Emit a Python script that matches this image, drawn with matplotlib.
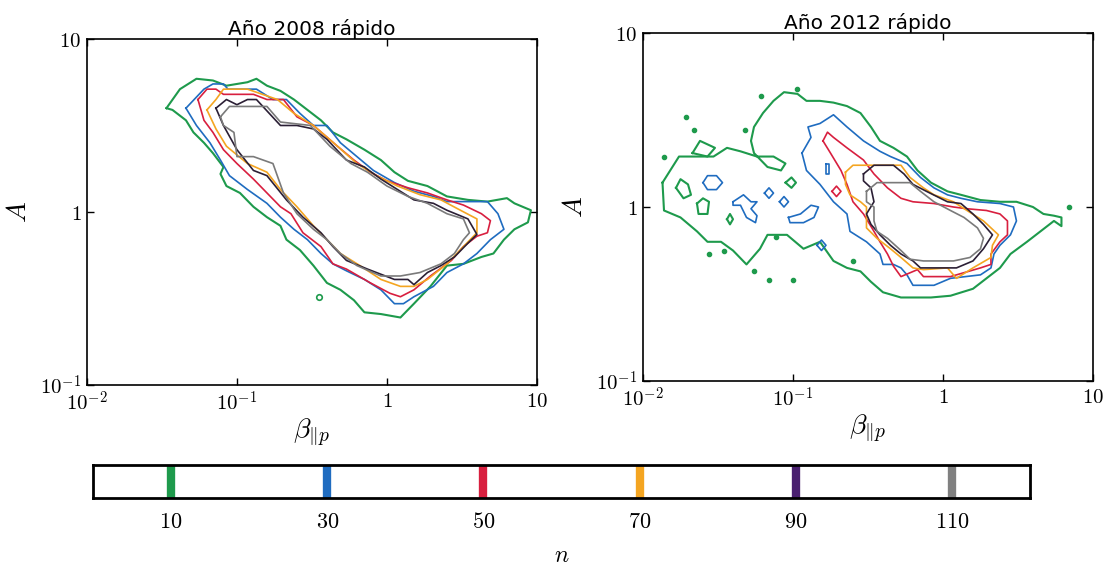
import matplotlib
matplotlib.use("Agg")
import matplotlib.pyplot as plt
import numpy as np

plt.rcParams['mathtext.fontset'] = 'cm'

# Contour levels (n) and their colours
levels = [10, 30, 50, 70, 90, 110]
level_colors = ['#1e9a4c', '#1f6cc0', '#d81f3f', '#f4a521', '#2b1f35', '#7a7a7a']
bar_colors = ['#1e9a4c', '#1f6cc0', '#d81f3f', '#f4a521', '#4a2070', '#808080']
tick_labels = ['$10^{-2}$', '$10^{-1}$', '$1$', '$10$']

# ---- 2008 contours, (log10 beta, log10 A) ----
y08_n10 = [(-1.47,0.60),(-1.38,0.71),(-1.27,0.77),(-1.16,0.76),(-1.07,0.73),(-0.93,0.75),(-0.87,0.77),
           (-0.80,0.73),(-0.71,0.70),(-0.62,0.65),(-0.53,0.59),(-0.44,0.53),(-0.36,0.46),(-0.27,0.42),
           (-0.15,0.36),(-0.04,0.30),(0.05,0.23),(0.14,0.18),(0.27,0.15),(0.40,0.09),(0.54,0.07),
           (0.67,0.06),(0.80,0.08),(0.85,0.05),(0.96,0.01),(0.94,-0.06),(0.85,-0.10),(0.78,-0.16),
           (0.71,-0.24),(0.63,-0.26),(0.51,-0.30),(0.40,-0.31),(0.29,-0.43),(0.18,-0.53),(0.09,-0.61),
           (-0.04,-0.59),(-0.15,-0.58),(-0.22,-0.51),(-0.31,-0.45),(-0.40,-0.41),(-0.49,-0.31),
           (-0.58,-0.22),(-0.67,-0.16),(-0.71,-0.08),(-0.80,-0.03),(-0.89,0.03),(-0.98,0.11),
           (-1.07,0.15),(-1.11,0.22),(-1.09,0.26),(-1.16,0.34),(-1.22,0.40),(-1.29,0.46),
           (-1.34,0.53),(-1.43,0.59)]
y08_n30 = [(-1.34,0.60),(-1.22,0.71),(-1.16,0.74),(-1.09,0.74),(-1.06,0.71),(-0.87,0.71),(-0.76,0.65),
           (-0.67,0.65),(-0.58,0.57),(-0.49,0.50),(-0.40,0.50),(-0.31,0.40),(-0.20,0.32),(-0.09,0.24),
           (0.05,0.17),(0.18,0.12),(0.31,0.09),(0.40,0.06),(0.54,0.06),(0.67,0.06),(0.74,-0.01),
           (0.78,-0.10),(0.69,-0.16),(0.60,-0.24),(0.51,-0.30),(0.40,-0.35),(0.31,-0.43),(0.18,-0.49),
           (0.11,-0.53),(0.05,-0.53),(-0.04,-0.45),(-0.15,-0.39),(-0.27,-0.34),(-0.36,-0.30),
           (-0.44,-0.24),(-0.53,-0.16),(-0.62,-0.10),(-0.71,-0.03),(-0.80,0.05),(-0.93,0.13),
           (-1.05,0.21),(-1.11,0.30),(-1.18,0.40),(-1.27,0.50)]
y08_n50 = [(-1.26,0.65),(-1.20,0.71),(-1.14,0.71),(-1.09,0.68),(-0.89,0.68),(-0.80,0.65),(-0.69,0.65),
           (-0.60,0.55),(-0.49,0.50),(-0.33,0.38),(-0.22,0.30),(-0.11,0.23),(0.00,0.18),(0.14,0.14),
           (0.27,0.11),(0.40,0.07),(0.51,0.04),(0.63,-0.01),(0.69,-0.05),(0.67,-0.12),(0.60,-0.14),
           (0.51,-0.20),(0.43,-0.28),(0.29,-0.37),(0.18,-0.45),(0.09,-0.49),(0.02,-0.47),(-0.11,-0.41),
           (-0.27,-0.33),(-0.36,-0.30),(-0.44,-0.20),(-0.56,-0.12),(-0.64,-0.01),(-0.71,0.03),
           (-0.80,0.11),(-0.89,0.19),(-1.00,0.28),(-1.09,0.36),(-1.16,0.46),(-1.22,0.53)]
y08_n70 = [(-1.20,0.59),(-1.14,0.65),(-1.09,0.71),(-0.93,0.71),(-0.73,0.65),(-0.62,0.57),(-0.49,0.50),
           (-0.33,0.38),(-0.20,0.28),(-0.07,0.21),(0.07,0.15),(0.22,0.10),(0.36,0.07),(0.49,0.01),
           (0.60,-0.04),(0.60,-0.12),(0.51,-0.20),(0.40,-0.30),(0.27,-0.39),(0.18,-0.43),(0.09,-0.43),
           (-0.04,-0.39),(-0.18,-0.31),(-0.31,-0.24),(-0.40,-0.16),(-0.49,-0.08),(-0.60,0.03),
           (-0.71,0.13),(-0.80,0.23),(-0.93,0.28),(-1.07,0.38),(-1.14,0.48)]
y08_n90 = [(-1.14,0.60),(-1.07,0.65),(-1.00,0.62),(-0.93,0.65),(-0.87,0.65),(-0.71,0.50),(-0.60,0.50),
           (-0.49,0.48),(-0.40,0.42),(-0.27,0.30),(-0.15,0.26),(-0.04,0.19),(0.07,0.13),(0.18,0.07),
           (0.31,0.05),(0.40,0.01),(0.54,-0.04),(0.60,-0.13),(0.54,-0.18),(0.45,-0.26),(0.36,-0.31),
           (0.27,-0.35),(0.18,-0.42),(0.14,-0.39),(0.05,-0.39),(-0.07,-0.35),(-0.13,-0.33),
           (-0.27,-0.28),(-0.36,-0.20),(-0.44,-0.12),(-0.56,-0.03),(-0.67,0.07),(-0.80,0.21),
           (-0.89,0.24),(-1.00,0.36),(-1.09,0.50)]
y08_n110 = [(-1.11,0.55),(-1.05,0.61),(-0.80,0.61),(-0.71,0.52),(-0.51,0.50),(-0.38,0.38),(-0.24,0.28),
            (-0.13,0.23),(0.00,0.15),(0.14,0.09),(0.27,0.05),(0.40,-0.01),(0.51,-0.04),(0.55,-0.12),
            (0.51,-0.16),(0.45,-0.24),(0.36,-0.30),(0.22,-0.35),(0.09,-0.37),(-0.04,-0.37),
            (-0.20,-0.31),(-0.31,-0.24),(-0.40,-0.16),(-0.49,-0.10),(-0.60,-0.01),(-0.69,0.11),
            (-0.76,0.28),(-0.89,0.32),(-1.00,0.32),(-1.02,0.46),(-1.09,0.50)]
y08_dots = [(-0.45,-0.49)]

# ---- 2012 contours, (log10 beta, log10 A) ----
y12_n10 = [(-1.87,0.14),(-1.76,0.29),(-1.66,0.29),(-1.53,0.29),(-1.44,0.34),(-1.35,0.32),(-1.24,0.29),
           (-1.13,0.29),(-1.05,0.25),(-1.08,0.21),(-1.17,0.23),(-1.26,0.31),(-1.28,0.38),(-1.26,0.46),
           (-1.20,0.54),(-1.13,0.61),(-1.06,0.66),(-0.97,0.65),(-0.91,0.61),(-0.82,0.61),(-0.73,0.60),
           (-0.64,0.58),(-0.55,0.54),(-0.48,0.46),(-0.42,0.38),(-0.33,0.34),(-0.24,0.29),(-0.17,0.21),
           (-0.08,0.14),(0.03,0.09),(0.12,0.07),(0.25,0.04),(0.38,0.03),(0.49,0.03),(0.60,0.00),
           (0.67,-0.04),(0.74,-0.05),(0.79,-0.06),(0.79,-0.11),(0.74,-0.08),(0.65,-0.14),(0.56,-0.20),
           (0.45,-0.27),(0.38,-0.35),(0.29,-0.41),(0.20,-0.47),(0.05,-0.51),(-0.08,-0.52),
           (-0.28,-0.52),(-0.40,-0.49),(-0.48,-0.43),(-0.55,-0.37),(-0.64,-0.35),(-0.73,-0.31),
           (-0.82,-0.20),(-0.93,-0.24),(-1.04,-0.16),(-1.17,-0.16),(-1.22,-0.24),(-1.31,-0.33),
           (-1.40,-0.25),(-1.48,-0.20),(-1.57,-0.20),(-1.64,-0.14),(-1.75,-0.06),(-1.86,-0.02)]
y12_n10_islands = [
    [(-1.78,0.11),(-1.75,0.16),(-1.70,0.13),(-1.68,0.07),(-1.73,0.05)],
    [(-1.64,0.02),(-1.60,0.05),(-1.56,0.03),(-1.57,-0.04),(-1.63,-0.04)],
    [(-1.67,0.31),(-1.62,0.38),(-1.52,0.34),(-1.57,0.29)],
    [(-1.44,-0.07),(-1.42,-0.04),(-1.40,-0.07),(-1.42,-0.10)],
    [(-1.05,0.14),(-1.01,0.17),(-0.98,0.14),(-1.01,0.11)],
]
y12_dots = [(-1.21,0.64),(-1.86,0.29),(-1.66,0.44),(-1.32,0.44),(-1.56,-0.27),(-1.26,-0.37),
            (-1.16,-0.42),(-1.00,-0.42),(-1.11,-0.17),(-0.60,-0.31),(0.84,0.00),(-1.71,0.52),
            (-0.97,0.68),(-1.46,-0.25)]
y12_n30 = [(-0.94,0.31),(-0.88,0.40),(-0.90,0.46),(-0.82,0.48),(-0.73,0.53),(-0.64,0.46),(-0.53,0.38),
           (-0.42,0.32),(-0.35,0.29),(-0.24,0.25),(-0.15,0.17),(-0.06,0.11),(0.03,0.07),(0.12,0.05),
           (0.23,0.03),(0.38,0.02),(0.47,0.00),(0.49,-0.08),(0.45,-0.16),(0.38,-0.22),(0.34,-0.27),
           (0.32,-0.35),(0.25,-0.39),(0.05,-0.41),(-0.06,-0.45),(-0.20,-0.45),(-0.24,-0.39),
           (-0.28,-0.35),(-0.33,-0.33),(-0.40,-0.33),(-0.42,-0.27),(-0.51,-0.20),(-0.62,-0.14),
           (-0.64,-0.04),(-0.73,0.03),(-0.82,0.13),(-0.91,0.21)]
y12_n30_islands = [
    [(-1.60,0.14),(-1.57,0.18),(-1.51,0.18),(-1.47,0.14),(-1.51,0.10),(-1.57,0.10)],
    [(-1.40,0.03),(-1.33,0.07),(-1.28,0.03),(-1.24,0.03),(-1.28,-0.01),(-1.24,-0.05),
     (-1.25,-0.09),(-1.31,-0.06),(-1.35,0.01),(-1.40,0.01)],
    [(-1.19,0.08),(-1.16,0.11),(-1.13,0.08),(-1.16,0.05)],
    [(-1.09,0.03),(-1.06,0.06),(-1.03,0.03),(-1.06,0.00)],
    [(-0.84,-0.22),(-0.81,-0.19),(-0.78,-0.22),(-0.81,-0.25)],
    [(-1.03,-0.06),(-0.95,-0.04),(-0.88,0.01),(-0.83,0.00),(-0.86,-0.06),(-0.93,-0.09),(-1.02,-0.09)],
    [(-0.78,0.25),(-0.76,0.25),(-0.76,0.19),(-0.78,0.19)],
]
y12_n50 = [(-0.80,0.38),(-0.77,0.43),(-0.73,0.40),(-0.64,0.34),(-0.53,0.27),(-0.46,0.19),(-0.37,0.11),
           (-0.28,0.05),(-0.20,0.03),(-0.06,0.02),(0.07,0.00),(0.16,-0.01),(0.29,-0.02),(0.38,-0.04),
           (0.43,-0.08),(0.43,-0.16),(0.38,-0.20),(0.32,-0.27),(0.32,-0.33),(0.25,-0.35),(0.05,-0.40),
           (-0.13,-0.40),(-0.17,-0.36),(-0.28,-0.40),(-0.33,-0.34),(-0.37,-0.27),(-0.42,-0.20),
           (-0.46,-0.14),(-0.53,-0.04),(-0.60,0.03),(-0.64,0.13),(-0.68,0.21),(-0.75,0.31)]
y12_n50_islands = [[(-0.74,0.09),(-0.71,0.12),(-0.68,0.09),(-0.71,0.06)]]
y12_n70 = [(-0.65,0.20),(-0.60,0.24),(-0.28,0.24),(-0.22,0.17),(-0.13,0.11),(-0.06,0.07),(0.07,0.03),
           (0.16,-0.02),(0.27,-0.08),(0.37,-0.16),(0.33,-0.22),(0.32,-0.29),(0.20,-0.35),(0.09,-0.41),
           (0.03,-0.35),(-0.13,-0.36),(-0.20,-0.35),(-0.28,-0.29),(-0.35,-0.24),(-0.44,-0.18),
           (-0.51,-0.12),(-0.51,0.00),(-0.55,0.03),(-0.62,0.07),(-0.65,0.13)]
y12_n90 = [(-0.53,0.19),(-0.46,0.24),(-0.33,0.24),(-0.26,0.19),(-0.20,0.13),(-0.11,0.09),(0.03,0.03),
           (0.12,0.02),(0.20,-0.04),(0.27,-0.10),(0.33,-0.16),(0.27,-0.24),(0.20,-0.31),(0.09,-0.35),
           (-0.15,-0.35),(-0.20,-0.31),(-0.28,-0.27),(-0.35,-0.22),(-0.42,-0.16),(-0.48,-0.10),
           (-0.51,-0.04),(-0.46,0.03),(-0.48,0.11),(-0.53,0.15)]
y12_n110 = [(-0.51,0.09),(-0.44,0.14),(-0.22,0.14),(-0.15,0.09),(-0.06,0.03),(0.05,-0.02),(0.14,-0.06),
            (0.23,-0.12),(0.27,-0.18),(0.25,-0.24),(0.18,-0.29),(0.07,-0.31),(-0.13,-0.31),
            (-0.22,-0.30),(-0.28,-0.25),(-0.37,-0.18),(-0.44,-0.14),(-0.46,-0.08),(-0.46,0.00),
            (-0.51,0.03)]


def draw_loop(ax, pts, color, lw=1.2):
    p = np.array(pts + [pts[0]])
    ax.plot(10 ** p[:, 0], 10 ** p[:, 1], color=color, lw=lw)


def setup(ax, title):
    ax.set_xscale('log')
    ax.set_yscale('log')
    ax.set_xlim(0.01, 10)
    ax.set_ylim(0.1, 10)
    ax.set_xticks([0.01, 0.1, 1, 10])
    ax.set_xticklabels(tick_labels, fontsize=15)
    ax.set_yticks([0.1, 1, 10])
    ax.set_yticklabels(['$10^{-1}$', '$1$', '$10$'], fontsize=15)
    ax.minorticks_off()
    ax.tick_params(direction='in', length=5, width=1, top=True, right=True, pad=4)
    for s in ax.spines.values():
        s.set_linewidth(1.2)
    ax.set_title(title, fontsize=14.5, pad=3)
    ax.set_xlabel(r'$\beta_{\|p}$', fontsize=20, labelpad=1)
    ax.set_ylabel('$A$', fontsize=20, labelpad=6)


fig = plt.figure(figsize=(11.05, 5.69), dpi=100)
ax1 = fig.add_axes([0.0787, 0.3234, 0.4072, 0.6081])
ax2 = fig.add_axes([0.5819, 0.3304, 0.4072, 0.6116])

# 2008
for pts, c in zip([y08_n10, y08_n30, y08_n50, y08_n70, y08_n90, y08_n110], level_colors):
    draw_loop(ax1, pts, c, lw=1.5 if c == level_colors[0] else 1.2)
d = np.array(y08_dots)
ax1.plot(10 ** d[:, 0], 10 ** d[:, 1], 'o', ms=4, mfc='none', mec=level_colors[0], mew=1.2)
setup(ax1, 'Año 2008 rápido')

# 2012
draw_loop(ax2, y12_n10, level_colors[0], lw=1.5)
for pts in y12_n10_islands:
    draw_loop(ax2, pts, level_colors[0], lw=1.5)
d = np.array(y12_dots)
ax2.plot(10 ** d[:, 0], 10 ** d[:, 1], 'o', ms=3, color=level_colors[0])
draw_loop(ax2, y12_n30, level_colors[1])
for pts in y12_n30_islands:
    draw_loop(ax2, pts, level_colors[1])
draw_loop(ax2, y12_n50, level_colors[2])
for pts in y12_n50_islands:
    draw_loop(ax2, pts, level_colors[2])
draw_loop(ax2, y12_n70, level_colors[3])
draw_loop(ax2, y12_n90, level_colors[4])
draw_loop(ax2, y12_n110, level_colors[5])
setup(ax2, 'Año 2012 rápido')

# level key bar
cax = fig.add_axes([0.0842, 0.1248, 0.848, 0.058])
for lv, c in zip(levels, bar_colors):
    cax.axvline(lv, color=c, lw=6)
cax.set_xlim(0, 120)
cax.set_yticks([])
cax.set_xticks(levels)
cax.set_xticklabels(['$%d$' % v for v in levels], fontsize=16)
cax.tick_params(length=0, pad=10)
for s in cax.spines.values():
    s.set_linewidth(2)
cax.set_xlabel('$n$', fontsize=17, labelpad=8)

fig.savefig('out.png', dpi=100)
